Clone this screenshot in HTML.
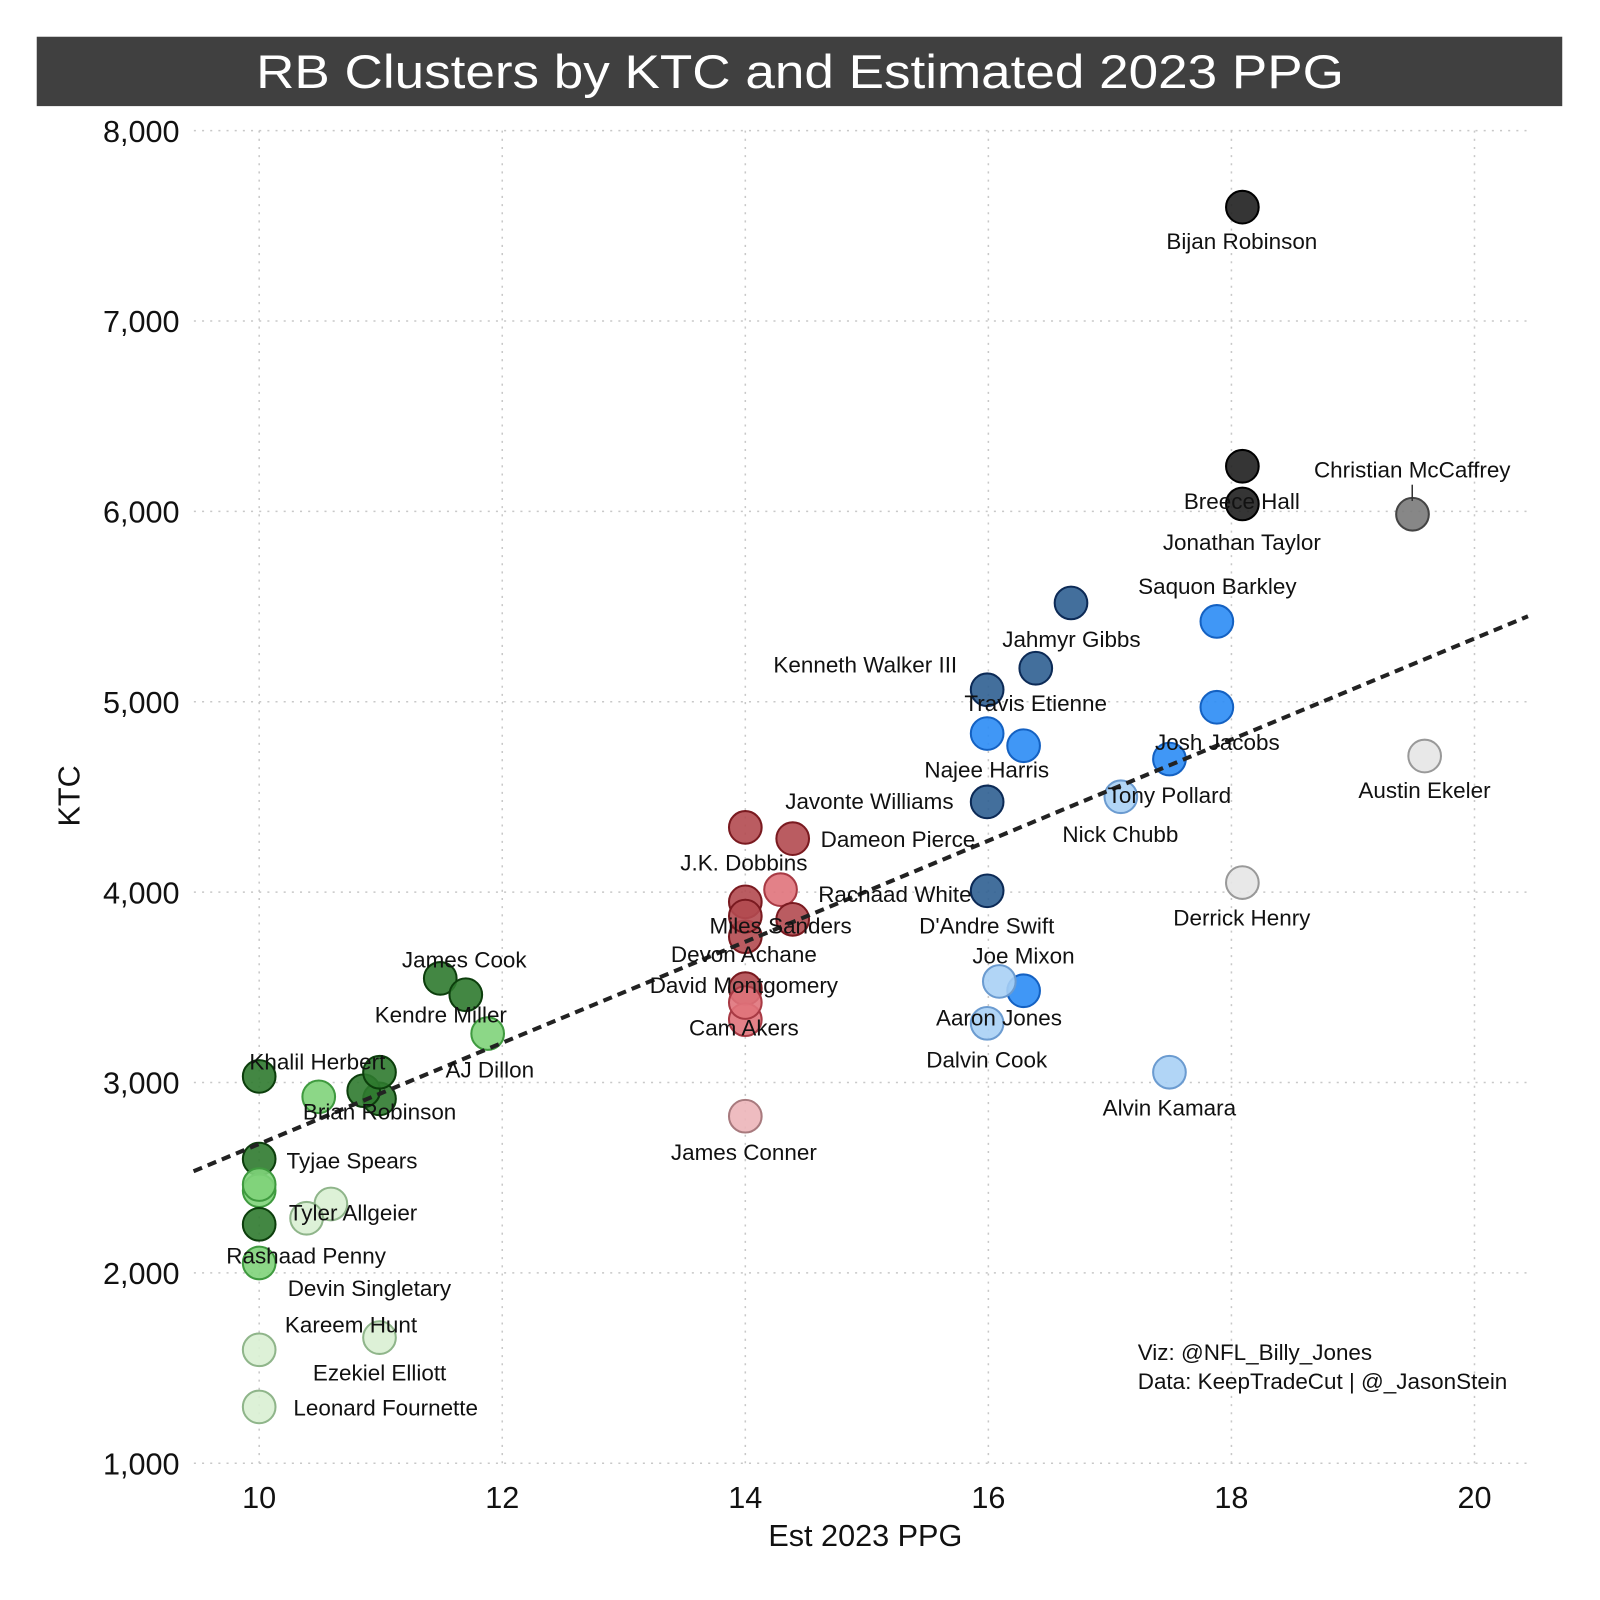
<!DOCTYPE html>
<html><head><meta charset="utf-8"><style>
html,body{margin:0;padding:0;background:#fff;}
svg{display:block;}
text{font-family:"Liberation Sans",sans-serif;}
</style></head><body>
<svg id="chart" width="1600" height="1600" viewBox="0 0 1568 1568" xmlns="http://www.w3.org/2000/svg">
<rect x="36" y="36" width="1495" height="68" fill="#404040"/>
<text x="784" y="86" text-anchor="middle" fill="#fff" font-size="46" textLength="1066" lengthAdjust="spacingAndGlyphs">RB Clusters by KTC and Estimated 2023 PPG</text>
<g id="grid"></g>
<g id="ticks"></g>
<g id="points"></g>
<g id="trend"></g>
<g id="labels"></g>
<line x1="1384" y1="475" x2="1384" y2="491" stroke="#333" stroke-width="1.5"/>
<text x="848" y="1515" text-anchor="middle" font-size="30" fill="#111">Est 2023 PPG</text>
<text x="78" y="780" text-anchor="middle" font-size="30" fill="#111" transform="rotate(-90 78 780)">KTC</text>
<text x="1115" y="1333" font-size="22" fill="#111">Viz: @NFL_Billy_Jones</text>
<text x="1115" y="1361" font-size="22" fill="#111">Data: KeepTradeCut | @_JasonStein</text>
</svg>
<script>
const xTicks = [10, 12, 14, 16, 18, 20];
const yTicks = [1000, 2000, 3000, 4000, 5000, 6000, 7000, 8000];
const yTickLabels = ["1,000","2,000","3,000","4,000","5,000","6,000","7,000","8,000"];
const names = ["Bijan Robinson","Breece Hall","Jonathan Taylor","Christian McCaffrey","Saquon Barkley","Jahmyr Gibbs","Kenneth Walker III","Travis Etienne","Najee Harris","Javonte Williams","D'Andre Swift","Josh Jacobs","Tony Pollard","Joe Mixon","Nick Chubb","Aaron Jones","Dalvin Cook","Alvin Kamara","Austin Ekeler","Derrick Henry","J.K. Dobbins","Dameon Pierce","Rachaad White","Miles Sanders","Devon Achane","David Montgomery","Cam Akers","James Conner","X1","X2","X3","James Cook","Kendre Miller","AJ Dillon","Khalil Herbert","Brian Robinson","Tyjae Spears","Tyler Allgeier","Rashaad Penny","Devin Singletary","Kareem Hunt","Ezekiel Elliott","Leonard Fournette","X4","X5","X6","X7","X8","X9","X10"];
const ppg = [18.09,18.09,18.09,19.49,17.88,16.68,16.39,15.99,15.99,15.99,15.99,17.88,17.49,16.29,17.09,16.09,15.99,17.49,19.59,18.09,14.0,14.39,14.29,14.39,14.0,14.0,14.0,14.0,14.0,14.0,14.0,11.49,11.88,11.70,10.0,10.99,10.0,10.59,10.0,10.0,10.39,10.99,10.0,10.86,10.99,10.49,10.0,16.29,10.0,10.0];
const ktc = [7598,6237,6039,5985,5422,5519,5176,5063,4833,4474,4007,4971,4699,3482,4501,3531,3311,3054,4715,4050,4340,4281,4013,3857,3766,3493,3330,2823,3949,3874,3420,3547,3257,3461,3032,2914,2598,2362,2052,2432,2287,1660,1296,2957,3054,2925,2464,4769,1596,2255];
const cluster = [0,0,0,1,2,3,3,3,2,3,3,2,2,2,4,4,4,4,5,5,6,6,7,6,6,6,7,8,6,6,7,9,10,9,9,9,9,11,10,10,11,11,11,9,9,10,10,2,11,9];
const clusterFill = ["#1f1f1f","#7a7a7a","#2b8cf5","#2f5f91","#a9d0f5","#e6e6e6","#b34a50","#e0737b","#ecb5b9","#2f7a2f","#7fd37a","#d9efd3"];
const clusterStroke = ["#000","#444","#1461c2","#0c2a56","#6b9bd0","#999","#7a1a20","#a83a44","#a87a7e","#0c3e0c","#3f9a3f","#8fb58a"];
const labelPos = {"Bijan Robinson":[1217,244],"Breece Hall":[1217,499],"Jonathan Taylor":[1217,539],"Christian McCaffrey":[1384,468],"Saquon Barkley":[1193,582],"Jahmyr Gibbs":[1050,634],"Kenneth Walker III":[848,659],"Travis Etienne":[1015,697],"Najee Harris":[967,762],"Javonte Williams":[852,793],"D'Andre Swift":[967,915],"Josh Jacobs":[1193,735],"Tony Pollard":[1146,787],"Joe Mixon":[1003,944],"Nick Chubb":[1098,825],"Aaron Jones":[979,1005],"Dalvin Cook":[967,1046],"Alvin Kamara":[1146,1093],"Austin Ekeler":[1396,782],"Derrick Henry":[1217,907],"J.K. Dobbins":[729,853],"Dameon Pierce":[880,830],"Rachaad White":[877,884],"Miles Sanders":[765,915],"Devon Achane":[729,943],"David Montgomery":[729,973],"Cam Akers":[729,1015],"James Conner":[729,1137],"James Cook":[455,948],"Kendre Miller":[432,1002],"AJ Dillon":[480,1056],"Khalil Herbert":[311,1048],"Brian Robinson":[372,1097],"Tyjae Spears":[345,1145],"Tyler Allgeier":[346,1196],"Rashaad Penny":[300,1238],"Devin Singletary":[362,1270],"Kareem Hunt":[344,1306],"Ezekiel Elliott":[372,1353],"Leonard Fournette":[378,1387]};
const trendX = [9.46, 20.44];
const trendY = [2534, 5449];

const NS = "http://www.w3.org/2000/svg";
const X0 = 190, X1 = 1497, Y0 = 128, Y1 = 1434;
function sx(v){ return 254 + (v - 10) * 119.1; }
function sy(v){ return 1434 - (v - 1000) * (1306 / 7000); }
function mk(tag, attrs, parent){ const e = document.createElementNS(NS, tag); for (const k in attrs) e.setAttribute(k, attrs[k]); parent.appendChild(e); return e; }

const grid = document.getElementById('grid');
const ticks = document.getElementById('ticks');
xTicks.forEach(t => {
  const l = mk('line', {x1: sx(t), x2: sx(t), y1: Y0, y2: Y1, stroke: '#c8c8c8', 'stroke-width': 1.5, 'stroke-dasharray': '2 6'}, grid);
  
  
  const tx = mk('text', {x: sx(t), y: 1478, 'text-anchor': 'middle', 'font-size': 30, fill: '#111'}, ticks);
  tx.textContent = t;
  
  
});
yTicks.forEach((t, i) => {
  const l = mk('line', {x1: X0, x2: X1, y1: sy(t), y2: sy(t), stroke: '#c8c8c8', 'stroke-width': 1.5, 'stroke-dasharray': '2 6'}, grid);
  
  
  const tx = mk('text', {x: 176, y: sy(t) + 11, 'text-anchor': 'end', 'font-size': 30, fill: '#111'}, ticks);
  tx.textContent = yTickLabels[i];
  
  
});

const pts = document.getElementById('points');
ppg.forEach((v, i) => {
  const c = cluster[i];
  const p = mk('circle', {cx: sx(v), cy: sy(ktc[i]), r: 16, fill: clusterFill[c], 'fill-opacity': 0.9, stroke: clusterStroke[c], 'stroke-width': 2}, pts);
  
  
});

const tl = mk('line', {x1: sx(trendX[0]), y1: sy(trendY[0]), x2: sx(trendX[1]), y2: sy(trendY[1]), stroke: '#222', 'stroke-width': 4, 'stroke-dasharray': '9 6'}, document.getElementById('trend'));



const lab = document.getElementById('labels');
names.forEach(n => {
  if (!labelPos[n]) return;
  const t = mk('text', {x: labelPos[n][0], y: labelPos[n][1], 'text-anchor': 'middle', 'font-size': 22, fill: '#111'}, lab);
  t.textContent = n;
  
  
});
</script>
</body></html>
